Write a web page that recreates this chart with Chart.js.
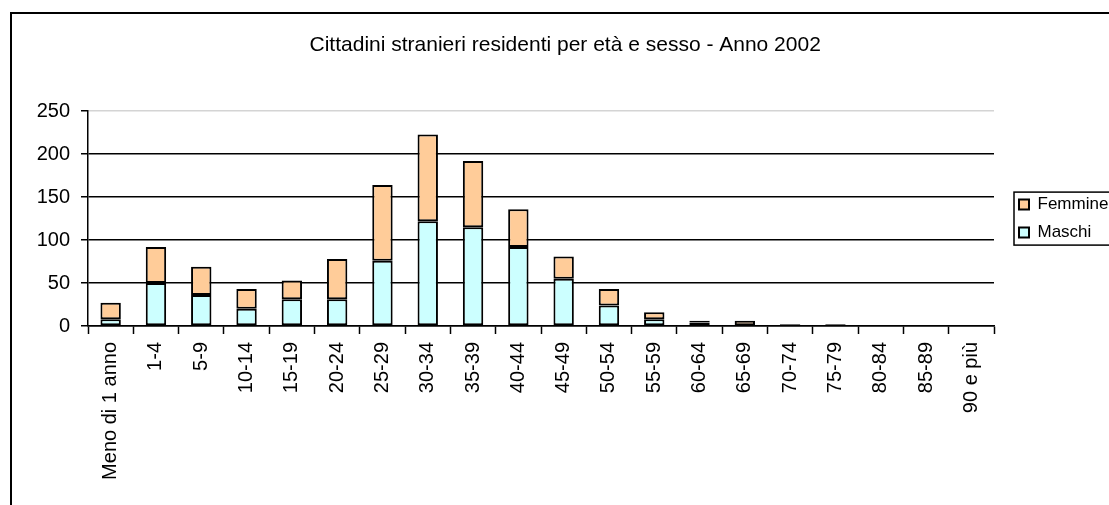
<!DOCTYPE html>
<html>
<head>
<meta charset="utf-8">
<script src="https://cdn.jsdelivr.net/npm/chart.js@4"></script>
<style>
  html,body{margin:0;padding:0;background:#fff;overflow:hidden}
  .cornice{position:absolute;left:10px;top:12px;width:1200px;height:600px;border:2px solid #000;box-sizing:border-box}
  .wrap{position:absolute;left:0;top:0;width:1109px;height:505px}
</style>
</head>
<body>
<div class="cornice"></div>
<div class="wrap"><canvas id="grafico" width="1109" height="505"></canvas></div>
<script>
// fasce di età
const eta = ['Meno di 1 anno','1-4','5-9','10-14','15-19','20-24','25-29','30-34','35-39','40-44',
  '45-49','50-54','55-59','60-64','65-69','70-74','75-79','80-84','85-89','90 e più'];
const maschi  = [8,50,36,20,31,31,76,122,115,92,55,24,8,4,1,1,1,0,0,0];
const femmine = [19,42,33,23,22,47,88,101,77,44,26,19,8,2,5,1,1,0,0,0];
const tickY = [0,50,100,150,200,250];

const FONT = 'Liberation Sans, Arial, sans-serif';

// legenda spostata a destra e incorniciata
const cornice = {
  id:'cornice',
  afterLayout(chart){
    const lg = chart.legend;
    if(lg){ lg.left += 14; lg.right += 14; }
  },
  afterDraw(chart){
    const lg = chart.legend, hb = lg && lg.legendHitBoxes;
    if(!hb || !hb.length) return;
    const l = Math.min(...hb.map(b=>b.left)) - 5;
    const t = Math.min(...hb.map(b=>b.top)) - 4;
    const r = Math.max(...hb.map(b=>b.left+b.width)) + 5;
    const b = Math.max(...hb.map(b=>b.top+b.height)) + 4;
    const ctx = chart.ctx;
    ctx.save();
    ctx.strokeStyle = '#000'; ctx.lineWidth = 1.5;
    ctx.strokeRect(l, t, r-l, b-t);
    ctx.restore();
  }
};

const chart = new Chart(document.getElementById('grafico'), {
  type:'bar',
  data:{
    labels: eta,
    datasets:[
      {label:'Maschi', data:maschi, backgroundColor:'#CCFFFF', borderColor:'#000', borderWidth:2, borderSkipped:false},
      {label:'Femmine', data:femmine, backgroundColor:'#FFCC99', borderColor:'#000', borderWidth:2, borderSkipped:false}
    ]
  },
  options:{
    responsive:false, animation:false,
    layout:{padding:{top:0,left:26,right:6,bottom:0}},
    datasets:{bar:{barPercentage:0.45, categoryPercentage:1}},
    plugins:{
      title:{display:true, text:'Cittadini stranieri residenti per età e sesso - Anno 2002',
        color:'#000', font:{family:FONT, size:21, weight:'normal'}, padding:{top:33, bottom:53}},
      legend:{position:'right', reverse:true, fullSize:false,
        labels:{color:'#000', font:{family:FONT, size:17}, boxWidth:10, boxHeight:10, padding:11}},
      tooltip:{enabled:false}
    },
    scales:{
      x:{stacked:true,
        afterFit(s){ s.height = 179; },
        border:{color:'#000', width:1.5},
        grid:{offset:true, drawOnChartArea:false, tickLength:8, tickColor:'#000', tickWidth:1.5},
        ticks:{color:'#000', font:{family:FONT, size:20}, minRotation:90, maxRotation:90, padding:8, autoSkip:false}
      },
      y:{stacked:true, min:0, max:250,
        afterFit(s){ s.width = 62; },
        afterBuildTicks(s){ s.ticks = tickY.map(v=>({value:v})); },
        border:{color:'#000', width:1.5},
        grid:{color:c=>c.tick && c.tick.value===250 ? '#d4d4d4' : '#000', lineWidth:1.5, tickLength:7, tickColor:'#000'},
        ticks:{color:'#000', font:{family:FONT, size:20}, padding:11}
      }
    }
  },
  plugins:[cornice]
});

// allinea il bordo destro dell'area del grafico
const delta = chart.chartArea.right - 994;
if (Math.abs(delta) > 0.5) {
  chart.options.layout.padding.right += delta;
  chart.update();
}
</script>
</body>
</html>
